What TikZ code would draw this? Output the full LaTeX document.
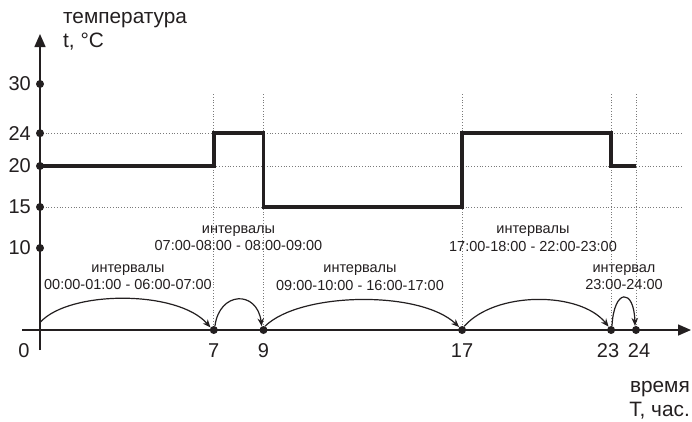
\documentclass[tikz,border=0pt]{standalone}
\usepackage{fontspec}
\setmainfont{Liberation Sans}
\usetikzlibrary{arrows.meta}
\definecolor{ink}{HTML}{231F20}
\definecolor{gridc}{HTML}{7A7A7A}
\begin{document}
\begin{tikzpicture}[x=1pt,y=1pt,
  ticklbl/.style={font=\fontsize{20}{23}\selectfont, inner sep=0, text=ink},
  intlbl/.style={font=\fontsize{14.5}{17.5}\selectfont, align=center, inner sep=0, text=ink},
  dotnode/.style={circle, fill=ink, inner sep=0, minimum size=8pt},
  gridline/.style={dotted, line width=0.8pt, gridc},
  templine/.style={line width=3.5pt, ink, line join=miter},
  axisline/.style={line width=1.5pt, ink},
  arcline/.style={line width=1.2pt, ink, -{Stealth[length=8pt,width=6.5pt]}}]
\fill[white] (0,0) rectangle (692,-421);
\useasboundingbox (0,0) rectangle (692,-421);

% grid lines
\foreach \yy in {-133.2,-166,-207} \draw[gridline] (40,\yy) -- (683,\yy);
\foreach \xx in {213.8,263.5,462.1,611.1,636} \draw[gridline] (\xx,-330) -- (\xx,-93);

% temperature profile
\draw[templine] (40,-166) -- (213.8,-166) -- (213.8,-133.2) -- (263.5,-133.2)
  -- (263.5,-207) -- (462.1,-207) -- (462.1,-133.2) -- (611.1,-133.2)
  -- (611.1,-166) -- (636,-166);

% axes
\draw[axisline, -{Triangle[length=13pt,width=11pt]}] (40,-350) -- (40,-34);
\draw[axisline, -{Triangle[length=13pt,width=11pt]}] (22,-330) -- (691,-330);

% y-axis dots and labels
\foreach \nm/\yy in {30/-84,24/-133.2,20/-166,15/-207,10/-248} {
  \node[dotnode] (y\nm) at (40,\yy) {};
  \node[ticklbl, anchor=east] (ly\nm) at (31,\yy) {\nm};
}

% x-axis dots and labels
\node[ticklbl] (lx0) at (24,-351) {0};
\foreach \nm/\xx in {7/213.8,9/263.5,17/462.1,23/611.1,24/636} {
  \node[dotnode] (d\nm) at (\xx,-330) {};
}
\foreach \nm/\xx in {7/213.8,9/263.5,17/462.1,23/608,24/639} {
  \node[ticklbl] (lx\nm) at (\xx,-351) {\nm};
}

% axis titles
\node[font=\fontsize{20.8}{24}\selectfont, align=left, anchor=north west, inner sep=0, text=ink] (ttemp) at (63,-12) {температура\\t, °C};
\node[font=\fontsize{20.8}{24}\selectfont, align=right, anchor=north east, inner sep=0, text=ink] (ttime) at (690,-381) {время\\T, час.};

% interval labels
\node[intlbl] (i1) at (128,-277) {интервалы\\00:00-01:00 - 06:00-07:00};
\node[intlbl] (i2) at (238.5,-238) {интервалы\\07:00-08:00 - 08:00-09:00};
\node[intlbl] (i3) at (360,-277.5) {интервалы\\09:00-10:00 - 16:00-17:00};
\node[intlbl] (i4) at (533,-238.5) {интервалы\\17:00-18:00 - 22:00-23:00};
\node[intlbl] (i5) at (624,-277) {интервал\\23:00-24:00};

% interval arcs
\coordinate (a0) at (40.5,-322);
\draw[arcline] (a0) .. controls (70,-290) and (178,-290) .. (d7.143);
\draw[arcline] (d7.74) .. controls (219.5,-291) and (257,-290) .. (d9.115);
\draw[arcline] (d9.67) .. controls (300,-292) and (420,-290) .. (d17.135);
\draw[arcline] (d17.60) .. controls (495,-291) and (580,-291) .. (d23.127);
\draw[arcline] (d23.78) .. controls (614,-288) and (634,-288) .. (d24.104);
\end{tikzpicture}
\end{document}
